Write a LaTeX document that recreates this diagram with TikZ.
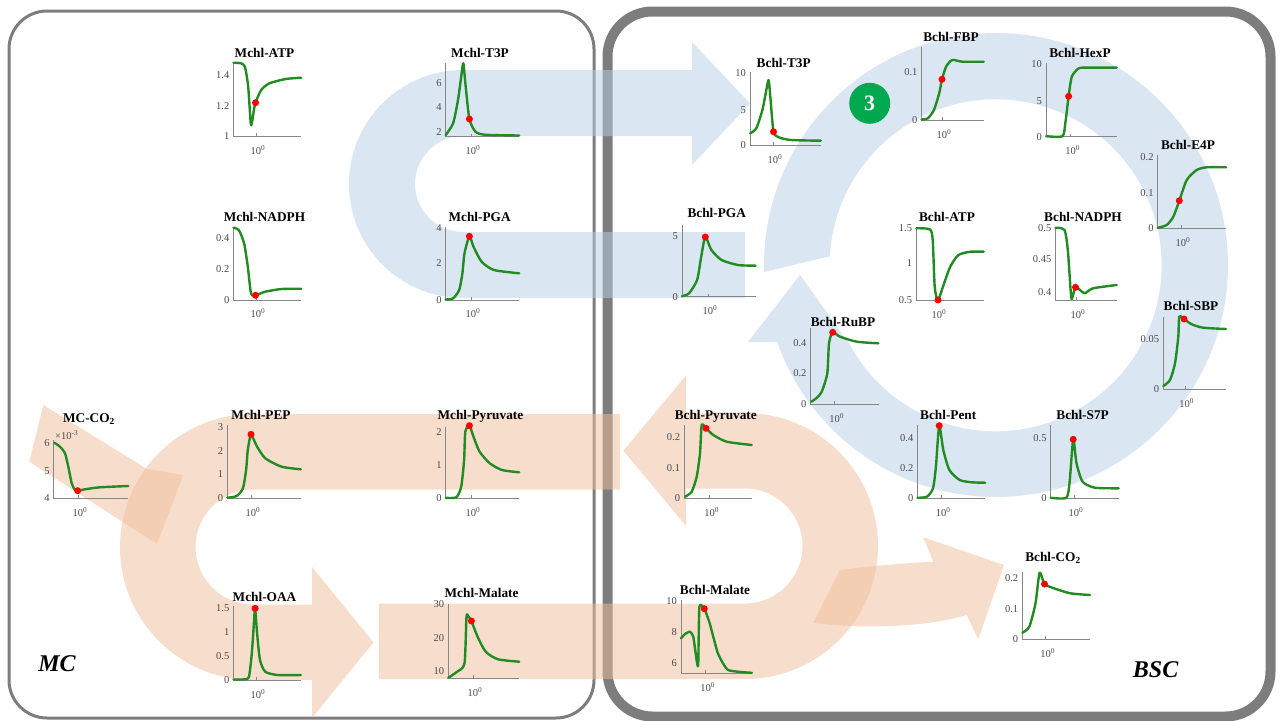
\documentclass[tikz,border=0pt]{standalone}
\usepackage{fontspec}
\setmainfont{Liberation Serif}
\usetikzlibrary{calc}
\definecolor{crvgreen}{RGB}{34,139,34}
\definecolor{numgreen}{RGB}{0,168,80}
\definecolor{bluearr}{RGB}{185,207,233}
\definecolor{orgarr}{RGB}{241,191,155}
\definecolor{boxgray}{RGB}{125,125,125}
\definecolor{axgray}{RGB}{135,135,135}
\definecolor{tkgray}{RGB}{75,75,75}

\begin{document}
\begin{tikzpicture}[x=1pt,y=-1pt]
  \tikzstyle{ttl} = [font=\bfseries\fontsize{13.3}{15}\selectfont, inner sep=0pt, anchor=base, yshift=-4.5pt]
  \tikzstyle{yt} = [font=\fontsize{10.5}{12}\selectfont, text=tkgray, inner sep=0pt, anchor=base east, yshift=-3.6pt]
  \tikzstyle{xt} = [font=\fontsize{10.5}{12}\selectfont, text=tkgray, inner sep=0pt, anchor=base, yshift=-3.6pt]
  \tikzstyle{ax} = [draw=axgray, line width=0.9pt]
  \tikzstyle{crv} = [draw=crvgreen, line width=2.4pt, line join=round, line cap=round]
  \tikzstyle{dot} = [circle, fill=red, inner sep=0pt, minimum size=7pt]
  \tikzstyle{cell} = [font=\bfseries\itshape\fontsize{24}{26}\selectfont, inner sep=0pt, anchor=base, yshift=-8pt]
  \tikzstyle{bluefl} = [fill=bluearr, fill opacity=0.5]
  \tikzstyle{orgfl} = [fill=orgarr, fill opacity=0.5]

  \useasboundingbox[fill=white] (0,0) rectangle (1282,720);

  % cell borders
  \draw[boxgray, line width=3pt, rounded corners=38pt] (9,11) rectangle (594,718);
  \draw[boxgray, line width=10pt, rounded corners=45pt] (607.5,11.5) rectangle (1270.5,716.5);

  % flow arrows
  \coordinate (ring) at (996,265);
  \fill[bluefl] (745,232) -- (463,232) arc[start angle=90, end angle=270, radius=48]
    -- (692,136) -- (692,165) -- (750,103.5) -- (692,42) -- (692,70) -- (463,70)
    arc[start angle=270, end angle=90, radius=114] -- (745,298) -- cycle;
  \fill[bluefl] ([shift={(178.3:232)}]ring) arc[start angle=178.3, end angle=520.6, radius=232]
    -- (748,342) -- (800,275) -- (850,345) arc[start angle=511.3, end angle=183.1, radius=166] -- cycle;
  \fill[orgfl] (620,489.5) -- (253,489.5) arc[start angle=270, end angle=90, radius=57.5]
    -- (312,604.5) -- (312,567) -- (373.5,642.3) -- (312,718) -- (312,680) -- (253,680)
    arc[start angle=90, end angle=270, radius=133] -- (620,414) -- cycle;
  \fill[orgfl] (378.8,603.5) -- (745,603.5) arc[start angle=90, end angle=-90, radius=57.5]
    -- (686,488.5) -- (686,526) -- (623.3,450.75) -- (686,375.5) -- (686,413) -- (745,413)
    arc[start angle=-90, end angle=90, radius=133] -- (378.8,679) -- cycle;
  \fill[orgfl] (43.3,405) -- (147,469) -- (183.3,475) -- (157,544) -- (29.3,461.7) -- cycle;
  \fill[orgfl] (840,570) .. controls (870,566) and (905,563) .. (933.3,561.7) -- (923.3,537.3)
    -- (1004,565) -- (978.3,639.3) -- (966.7,615) .. controls (930,626) and (870,630) .. (813,623) -- cycle;

  \node[circle, fill=numgreen, text=white, inner sep=0pt, minimum size=41pt,
        font=\bfseries\fontsize{22}{24}\selectfont] (num3) at (869.7,103.3) {3};
  \node[cell] (mc) at (57,663) {MC};
  \node[cell] (bsc) at (1155.6,669.3) {BSC};

  % Mchl-ATP
  \node[ttl] (matp) at (264.5,52.7) {Mchl-ATP};
  \draw[ax] (233.5,62.7) -- (233.5,136) -- (301,136) (256,136) -- (256,133);
  \node[yt] (matp-a) at (229.5,75.3) {1.4};
  \node[yt] (matp-b) at (229.5,106) {1.2};
  \node[yt] (matp-c) at (229.5,136) {1};
  \node[xt] (matp-x) at (258,150.7) {10\textsuperscript{0}};
  \draw[crv] plot[smooth, tension=0.4] coordinates {(233.5,62.7) (240.8,63.3) (244.9,66.7) (248.2,86.7) (251,125) (253.9,110) (255.5,102.7) (261.2,90) (269.4,83.3) (285.7,79) (301.2,77.7)};
  \node[dot] (matp-d) at (255.5,102.7) {};

  % Mchl-T3P
  \node[ttl] (mt3p) at (480,52.7) {Mchl-T3P};
  \draw[ax] (445.7,63) -- (445.7,136.7) -- (519,136.7) (471,136.7) -- (471,133.7);
  \node[yt] (mt3p-a) at (441.7,82.7) {6};
  \node[yt] (mt3p-b) at (441.7,106.7) {4};
  \node[yt] (mt3p-c) at (441.7,131.7) {2};
  \node[xt] (mt3p-x) at (473,150.7) {10\textsuperscript{0}};
  \draw[crv] plot[smooth, tension=0.4] coordinates {(445.7,135) (453.1,123.3) (458,100) (461.2,76.7) (463.3,63.3) (465.7,86.7) (469.4,119) (475.5,131.7) (485.7,134.8) (519.2,135.5)};
  \node[dot] (mt3p-d) at (469.4,119) {};

  % Mchl-NADPH
  \node[ttl] (mnadph) at (264.5,217) {Mchl-NADPH};
  \draw[ax] (233.5,226.7) -- (233.5,300) -- (301,300) (256,300) -- (256,297);
  \node[yt] (mnadph-a) at (229.5,238) {0.4};
  \node[yt] (mnadph-b) at (229.5,269) {0.2};
  \node[yt] (mnadph-c) at (229.5,300) {0};
  \node[xt] (mnadph-x) at (258,314) {10\textsuperscript{0}};
  \draw[crv] plot[smooth, tension=0.4] coordinates {(233.5,227.7) (238.8,230) (244.1,243.3) (247.8,266.7) (251,293.3) (255.5,295.3) (265.3,291.7) (281.6,289) (301.2,288.7)};
  \node[dot] (mnadph-d) at (255.5,295.3) {};

  % Mchl-PGA
  \node[ttl] (mpga) at (479.6,217) {Mchl-PGA};
  \draw[ax] (445.7,226.7) -- (445.7,300) -- (519,300) (471,300) -- (471,297);
  \node[yt] (mpga-a) at (441.7,228) {4};
  \node[yt] (mpga-b) at (441.7,263) {2};
  \node[yt] (mpga-c) at (441.7,300) {0};
  \node[xt] (mpga-x) at (473,314) {10\textsuperscript{0}};
  \draw[crv] plot[smooth, tension=0.4] coordinates {(445.7,299.5) (453.1,298.3) (459.2,290) (462.4,273.3) (464.5,253.3) (469.4,236.3) (473.5,246.7) (481.6,261.7) (493.9,270) (519.2,273.3)};
  \node[dot] (mpga-d) at (469.4,236.3) {};

  % Bchl-T3P
  \node[ttl] (bt3p) at (783.7,62.7) {Bchl-T3P};
  \draw[ax] (750,71.7) -- (750,145.3) -- (821,145.3) (773,145.3) -- (773,142.3);
  \node[yt] (bt3p-a) at (746,72.7) {10};
  \node[yt] (bt3p-b) at (746,109.7) {5};
  \node[yt] (bt3p-c) at (746,145.3) {0};
  \node[xt] (bt3p-x) at (775,159.7) {10\textsuperscript{0}};
  \draw[crv] plot[smooth, tension=0.4] coordinates {(750.2,133.3) (756.3,128.3) (762.4,110) (765.7,93.3) (768.6,80) (770.6,100) (773.5,131.7) (778.8,137.3) (791,140) (820.8,140.7)};
  \node[dot] (bt3p-d) at (773.5,131.7) {};

  % Bchl-FBP
  \node[ttl] (bfbp) at (951,36.7) {Bchl-FBP};
  \draw[ax] (921.6,46.7) -- (921.6,120) -- (983.7,120) (942,120) -- (942,117);
  \node[yt] (bfbp-a) at (917.6,72.3) {0.1};
  \node[yt] (bfbp-b) at (917.6,120) {0};
  \node[xt] (bfbp-x) at (944,134.5) {10\textsuperscript{0}};
  \draw[crv] plot[smooth, tension=0.4] coordinates {(921.6,119.5) (927.8,118.3) (933.9,110) (939.2,93.3) (942,79.3) (946.1,66.7) (952.2,60) (962.4,61.7) (983.7,61.7)};
  \node[dot] (bfbp-d) at (942,79.3) {};

  % Bchl-HexP
  \node[ttl] (bhexp) at (1080,53.3) {Bchl-HexP};
  \draw[ax] (1046,62.7) -- (1046,136.7) -- (1116.7,136.7) (1070.6,136.7) -- (1070.6,133.7);
  \node[yt] (bhexp-a) at (1042,64) {10};
  \node[yt] (bhexp-b) at (1042,100.7) {5};
  \node[yt] (bhexp-c) at (1042,136.7) {0};
  \node[xt] (bhexp-x) at (1072.6,151) {10\textsuperscript{0}};
  \draw[crv] plot[smooth, tension=0.4] coordinates {(1046.1,136.2) (1062.4,136.2) (1065.3,123.3) (1068.6,96.3) (1071.8,76.7) (1078.8,68.3) (1089,67.7) (1116.7,67.7)};
  \node[dot] (bhexp-d) at (1068.6,96.3) {};

  % Bchl-E4P
  \node[ttl] (be4p) at (1188,145) {Bchl-E4P};
  \draw[ax] (1157.7,155) -- (1157.7,228.3) -- (1226,228.3) (1181,228.3) -- (1181,225.3);
  \node[yt] (be4p-a) at (1153.7,156.7) {0.2};
  \node[yt] (be4p-b) at (1153.7,192.7) {0.1};
  \node[yt] (be4p-c) at (1153.7,228.3) {0};
  \node[xt] (be4p-x) at (1183,243) {10\textsuperscript{0}};
  \draw[crv] plot[smooth, tension=0.4] coordinates {(1157.7,227.8) (1166.7,225) (1173.3,216.7) (1179.3,200.7) (1186.7,180) (1196.7,170) (1206.7,167.3) (1226,167.3)};
  \node[dot] (be4p-d) at (1179.3,200.7) {};

  % Bchl-PGA
  \node[ttl] (bpga) at (716.7,213.3) {Bchl-PGA};
  \draw[ax] (682,225) -- (682,296.7) -- (755.5,296.7) (708,296.7) -- (708,293.7);
  \node[yt] (bpga-a) at (678,236) {5};
  \node[yt] (bpga-b) at (678,296.7) {0};
  \node[xt] (bpga-x) at (710,311) {10\textsuperscript{0}};
  \draw[crv] plot[smooth, tension=0.4] coordinates {(682,296.2) (689,293.3) (697.1,280) (701.2,256.7) (705.3,237) (711.4,250) (721.6,260) (738,265) (755.5,265.7)};
  \node[dot] (bpga-d) at (705.3,237) {};

  % Bchl-ATP
  \node[ttl] (batp) at (947,216.7) {Bchl-ATP};
  \draw[ax] (916.3,227.7) -- (916.3,300) -- (983.7,300) (937,300) -- (937,297);
  \node[yt] (batp-a) at (912.3,228.3) {1.5};
  \node[yt] (batp-b) at (912.3,263.3) {1};
  \node[yt] (batp-c) at (912.3,300) {0.5};
  \node[xt] (batp-x) at (939,314.5) {10\textsuperscript{0}};
  \draw[crv] plot[smooth, tension=0.4] coordinates {(916.3,228.3) (929.8,229.3) (932.7,240) (934.7,286.7) (938,300) (944.1,283.3) (950.2,266.7) (958.4,255) (970.6,251.7) (983.7,251.7)};
  \node[dot] (batp-d) at (938,300) {};

  % Bchl-NADPH
  \node[ttl] (bnadph) at (1083,216.7) {Bchl-NADPH};
  \draw[ax] (1055.5,227.7) -- (1055.5,300) -- (1116.7,300) (1076,300) -- (1076,297);
  \node[yt] (bnadph-a) at (1051.5,228.3) {0.5};
  \node[yt] (bnadph-b) at (1051.5,259.3) {0.45};
  \node[yt] (bnadph-c) at (1051.5,291.7) {0.4};
  \node[xt] (bnadph-x) at (1078,314.5) {10\textsuperscript{0}};
  \draw[crv] plot[smooth, tension=0.4] coordinates {(1055.5,227.7) (1064.5,230) (1067.8,250) (1070.6,290) (1071.8,299) (1075.5,287.3) (1080.8,290.7) (1084.9,293.3) (1093.1,288.3) (1116.7,285)};
  \node[dot] (bnadph-d) at (1075.5,287.3) {};

  % Bchl-SBP
  \node[ttl] (bsbp) at (1191,306) {Bchl-SBP};
  \draw[ax] (1163.3,316.7) -- (1163.3,389.3) -- (1226,389.3) (1185,389.3) -- (1185,386.3);
  \node[yt] (bsbp-a) at (1159.3,339.3) {0.05};
  \node[yt] (bsbp-b) at (1159.3,389.3) {0};
  \node[xt] (bsbp-x) at (1186.7,404) {10\textsuperscript{0}};
  \draw[crv] plot[smooth, tension=0.4] coordinates {(1163.3,386) (1170,380) (1175,363.3) (1178.3,336.7) (1179.3,316.7) (1184,319) (1191.7,324.3) (1203.3,327.7) (1226,329)};
  \node[dot] (bsbp-d) at (1184,319) {};

  % Bchl-RuBP
  \node[ttl] (brubp) at (843,321.7) {Bchl-RuBP};
  \draw[ax] (810.6,328) -- (810.6,404) -- (879,404) (834.5,404) -- (834.5,401);
  \node[yt] (brubp-a) at (806.6,342.7) {0.4};
  \node[yt] (brubp-b) at (806.6,373.3) {0.2};
  \node[yt] (brubp-c) at (806.6,404) {0};
  \node[xt] (brubp-x) at (836.7,419) {10\textsuperscript{0}};
  \draw[crv] plot[smooth, tension=0.4] coordinates {(811.2,401.7) (816,398.5) (821.7,391.7) (827.3,373.3) (829,343.3) (832.7,332.3) (840,336.7) (856.7,341.7) (878.3,343.3)};
  \node[dot] (brubp-d) at (832.7,332.3) {};

  % Bchl-Pyruvate
  \node[ttl] (bpyr) at (715.8,415) {Bchl-Pyruvate};
  \draw[ax] (684.3,425) -- (684.3,498.3) -- (752,498.3) (709.5,498.3) -- (709.5,495.3);
  \node[yt] (bpyr-a) at (680.3,436.7) {0.2};
  \node[yt] (bpyr-b) at (680.3,467.7) {0.1};
  \node[yt] (bpyr-c) at (680.3,498.3) {0};
  \node[xt] (bpyr-x) at (711.7,513) {10\textsuperscript{0}};
  \draw[crv] plot[smooth, tension=0.4] coordinates {(685,496.7) (691.7,491.7) (696.7,476.7) (700,453.3) (701.7,425) (706,428.3) (713.3,435) (726.7,441.7) (751.7,445)};
  \node[dot] (bpyr-d) at (706,428.3) {};

  % Bchl-Pent
  \node[ttl] (bpent) at (948.2,415) {Bchl-Pent};
  \draw[ax] (917.5,425) -- (917.5,498.3) -- (985,498.3) (941,498.3) -- (941,495.3);
  \node[yt] (bpent-a) at (913.5,438.3) {0.4};
  \node[yt] (bpent-b) at (913.5,468.3) {0.2};
  \node[yt] (bpent-c) at (913.5,498.3) {0};
  \node[xt] (bpent-x) at (943.3,513) {10\textsuperscript{0}};
  \draw[crv] plot[smooth, tension=0.4] coordinates {(917.5,497.8) (926.9,496.7) (933,488.3) (935.9,466.7) (939.2,425.7) (943.3,450) (949.4,470) (959.7,480) (972,482.3) (985.1,482.7)};
  \node[dot] (bpent-d) at (939.2,425.7) {};

  % Bchl-S7P
  \node[ttl] (bs7p) at (1082.6,415) {Bchl-S7P};
  \draw[ax] (1050.7,425) -- (1050.7,498.3) -- (1118.7,498.3) (1074,498.3) -- (1074,495.3);
  \node[yt] (bs7p-a) at (1046.7,438.3) {0.5};
  \node[yt] (bs7p-b) at (1046.7,498.3) {0};
  \node[xt] (bs7p-x) at (1076,513) {10\textsuperscript{0}};
  \draw[crv] plot[smooth, tension=0.4] coordinates {(1050.7,497.8) (1066.2,497.8) (1069.5,483.3) (1073.2,439.3) (1076.5,463.3) (1082.6,481.7) (1094.9,487.7) (1118.7,488.3)};
  \node[dot] (bs7p-d) at (1073.2,439.3) {};

  % Bchl-Malate
  \node[ttl] (bmal) at (715,590) {Bchl-Malate};
  \draw[ax] (681,600) -- (681,673.3) -- (752,673.3) (705.5,673.3) -- (705.5,670.3);
  \node[yt] (bmal-a) at (677,600.7) {10};
  \node[yt] (bmal-b) at (677,631.7) {8};
  \node[yt] (bmal-c) at (677,662.7) {6};
  \node[xt] (bmal-x) at (707.6,688) {10\textsuperscript{0}};
  \draw[crv] plot[smooth, tension=0.3] coordinates {(681,638.3) (685,634) (690,631.7) (693.3,636.7) (696.6,660) (698.2,665) (699.4,606.7) (704.3,608.7) (709.7,623.3) (717.9,653.3) (728.1,670) (751.9,672.8)};
  \node[dot] (bmal-d) at (704.3,608.7) {};

  % Bchl-CO2
  \node[ttl] (bco2) at (1053,556.7) {Bchl-CO\textsubscript{2}};
  \draw[ax] (1022.4,571.7) -- (1022.4,639.3) -- (1090,639.3) (1045.8,639.3) -- (1045.8,636.3);
  \node[yt] (bco2-a) at (1018.4,578.3) {0.2};
  \node[yt] (bco2-b) at (1018.4,608.7) {0.1};
  \node[yt] (bco2-c) at (1018.4,639.3) {0};
  \node[xt] (bco2-x) at (1047.8,653.5) {10\textsuperscript{0}};
  \draw[crv] plot[smooth, tension=0.4] coordinates {(1022.4,632.7) (1029.3,626.7) (1035.5,603.3) (1039.6,572.7) (1044.5,584) (1054,588.3) (1070.3,593.3) (1090,595)};
  \node[dot] (bco2-d) at (1044.5,584) {};

  % MC-CO2
  \node[ttl] (mco2) at (89,418.3) {MC-CO\textsubscript{2}};
  \draw[ax] (53.9,440) -- (53.9,498.3) -- (127.8,498.3) (78,498.3) -- (78,495.3);
  \node[yt] (mco2-a) at (49.9,443.3) {6};
  \node[yt] (mco2-b) at (49.9,471) {5};
  \node[yt] (mco2-c) at (49.9,498.3) {4};
  \node[font=\fontsize{10.5}{12}\selectfont, text=tkgray, inner sep=0pt, anchor=west] (mco2-e) at (55,435) {×10\textsuperscript{-3}};
  \node[xt] (mco2-x) at (80,513) {10\textsuperscript{0}};
  \draw[crv] plot[smooth, tension=0.4] coordinates {(54.3,442.7) (60,446.7) (65,453.3) (68.3,466.7) (71.7,483.3) (75,490) (77.7,490.7) (86.7,489) (100,487.3) (128.3,486)};
  \node[dot] (mco2-d) at (77.7,490.7) {};

  % Mchl-PEP
  \node[ttl] (mpep) at (261,415) {Mchl-PEP};
  \draw[ax] (227.3,425) -- (227.3,498.3) -- (300.8,498.3) (251,498.3) -- (251,495.3);
  \node[yt] (mpep-a) at (223.3,426.7) {3};
  \node[yt] (mpep-b) at (223.3,450.7) {2};
  \node[yt] (mpep-c) at (223.3,474.3) {1};
  \node[yt] (mpep-e) at (223.3,498.3) {0};
  \node[xt] (mpep-x) at (253,513) {10\textsuperscript{0}};
  \draw[crv] plot[smooth, tension=0.4] coordinates {(227.3,497.7) (236.7,496) (242.9,488.3) (246.1,470) (247.8,450) (251,435) (257.1,446.7) (265.3,458.3) (281.6,466.7) (300.8,469.3)};
  \node[dot] (mpep-d) at (251,434.3) {};

  % Mchl-Pyruvate
  \node[ttl] (mpyr) at (480.4,415) {Mchl-Pyruvate};
  \draw[ax] (445.7,426.7) -- (445.7,498.3) -- (519,498.3) (471,498.3) -- (471,495.3);
  \node[yt] (mpyr-a) at (441.7,432.3) {2};
  \node[yt] (mpyr-b) at (441.7,465) {1};
  \node[yt] (mpyr-c) at (441.7,498.3) {0};
  \node[xt] (mpyr-x) at (473,513) {10\textsuperscript{0}};
  \draw[crv] plot[smooth, tension=0.4] coordinates {(445.7,497.8) (456.3,497.3) (461.2,486.7) (464.1,460) (465.3,431.7) (469.4,425.7) (473.5,436.7) (479.6,451.7) (489.8,463.3) (502,470) (519.2,472.3)};
  \node[dot] (mpyr-d) at (469.4,425.7) {};

  % Mchl-OAA
  \node[ttl] (moaa) at (264.5,596.7) {Mchl-OAA};
  \draw[ax] (233.5,606) -- (233.5,680) -- (300.8,680) (256,680) -- (256,677);
  \node[yt] (moaa-a) at (229.5,608.3) {1.5};
  \node[yt] (moaa-b) at (229.5,632.3) {1};
  \node[yt] (moaa-c) at (229.5,656) {0.5};
  \node[yt] (moaa-e) at (229.5,680) {0};
  \node[xt] (moaa-x) at (258,695) {10\textsuperscript{0}};
  \draw[crv] plot[smooth, tension=0.4] coordinates {(233.5,679.5) (244.9,679.3) (249,676.7) (251.8,653.3) (253.9,623.3) (255.1,608.3) (257.1,633.3) (260,660) (265.3,671.7) (277.6,675) (300.8,675)};
  \node[dot] (moaa-d) at (255.1,608.3) {};

  % Mchl-Malate
  \node[ttl] (mmal) at (481.6,593.3) {Mchl-Malate};
  \draw[ax] (448.2,604.3) -- (448.2,678.3) -- (519,678.3) (473,678.3) -- (473,675.3);
  \node[yt] (mmal-a) at (444.2,604.3) {30};
  \node[yt] (mmal-b) at (444.2,637.7) {20};
  \node[yt] (mmal-c) at (444.2,671) {10};
  \node[xt] (mmal-x) at (475,693) {10\textsuperscript{0}};
  \draw[crv] plot[smooth, tension=0.4] coordinates {(448.2,677.8) (457.1,671.7) (464.5,663.3) (466.5,616.7) (468.6,616.7) (471.4,621) (477.6,636.7) (485.7,651.7) (498,659.3) (519.2,661.7)};
  \node[dot] (mmal-d) at (471.4,621) {};

\end{tikzpicture}
\end{document}
